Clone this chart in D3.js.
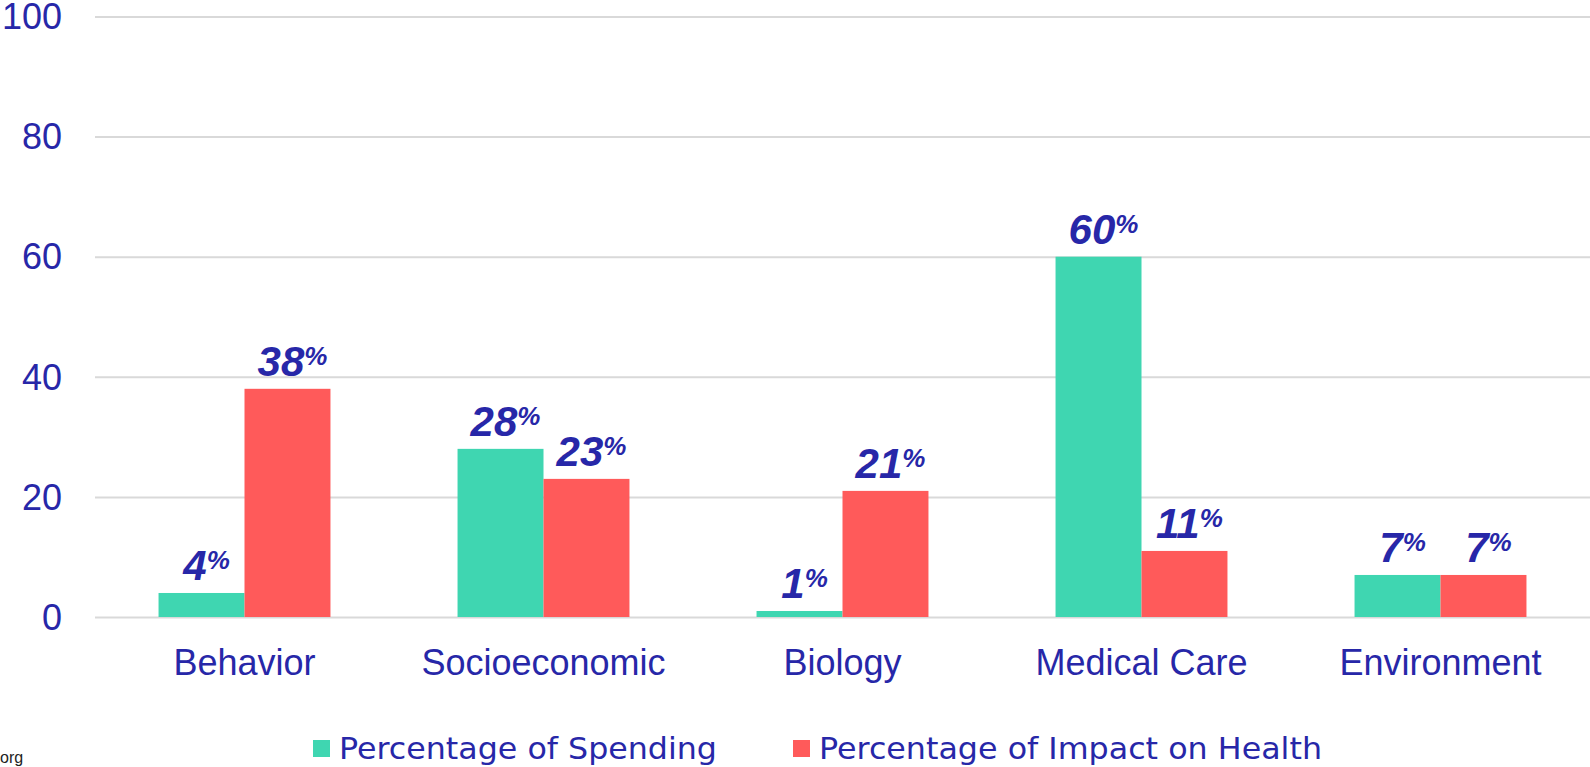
<!DOCTYPE html>
<html>
<head>
<meta charset="utf-8">
<script src="https://cdn.jsdelivr.net/npm/d3@7"></script>
<style>
  html, body { margin: 0; padding: 0; background: #fff; overflow: hidden; }
  svg { display: block; }
</style>
</head>
<body>
<svg id="chart" width="1590" height="767"></svg>
<script>
const categories = ["Behavior", "Socioeconomic", "Biology", "Medical Care", "Environment"];
const seriesNames = ["Percentage of Spending", "Percentage of Impact on Health"];
const spending = [4, 28, 1, 60, 7];
const impact = [38, 23, 21, 11, 7];
const yTicks = [0, 20, 40, 60, 80, 100];

const colors = ["#3fd6b1", "#ff5a5a"];
const textBlue = "#2727a8";

const svg = d3.select("#chart");
const mLeft = 95, mRight = 1590, mTop = 16.5, mBottom = 617;

const x0 = d3.scaleBand().domain(categories).range([mLeft, mRight]).paddingInner(0.425).paddingOuter(0.2125);
const x1 = d3.scaleBand().domain([0, 1]).range([0, x0.bandwidth()]);
const y = d3.scaleLinear().domain([0, 100]).range([mBottom, mTop]);

// gridlines
const yAxis = d3.axisLeft(y).tickValues(yTicks).tickSize(-(mRight - mLeft)).tickPadding(33);
const gy = svg.append("g").attr("transform", `translate(${mLeft},0)`).call(yAxis);
gy.select(".domain").remove();
gy.selectAll(".tick line").attr("stroke", "#d9d9d9").attr("stroke-width", 2);
gy.selectAll(".tick text")
  .attr("fill", textBlue)
  .attr("dy", "0.34em")
  .style("font-family", "'Liberation Sans', Arial, sans-serif")
  .style("font-size", "36px");

// bars
const rows = categories.map((c, i) => ({ cat: c, vals: [spending[i], impact[i]] }));
const groups = svg.append("g").selectAll("g").data(rows).join("g")
  .attr("transform", d => `translate(${x0(d.cat)},0)`);

groups.selectAll("rect").data(d => d.vals.map((v, k) => ({ v, k }))).join("rect")
  .attr("x", d => x1(d.k))
  .attr("width", x1.bandwidth())
  .attr("y", d => y(d.v))
  .attr("height", d => y(0) - y(d.v))
  .attr("fill", d => colors[d.k]);

// value labels
const lab = groups.selectAll("text.val").data(d => d.vals.map((v, k) => ({ v, k }))).join("text")
  .attr("class", "val")
  .attr("x", d => x1(d.k) + x1.bandwidth() / 2 + 5)
  .attr("y", d => y(d.v) - 13)
  .attr("text-anchor", "middle")
  .attr("fill", textBlue)
  .style("font-family", "'Liberation Sans', Arial, sans-serif")
  .style("font-weight", "bold")
  .style("font-style", "italic");
lab.append("tspan").style("font-size", "42px").text(d => d.v);
lab.append("tspan").style("font-size", "26px").attr("dy", -11).text("%");

// category labels
svg.append("g").selectAll("text").data(categories).join("text")
  .attr("x", d => x0(d) + x0.bandwidth() / 2)
  .attr("y", 675)
  .attr("text-anchor", "middle")
  .attr("fill", textBlue)
  .style("font-family", "'Liberation Sans', Arial, sans-serif")
  .style("font-size", "36px")
  .text(d => d);

// legend
const legendX = [313, 793];
const legendTextW = [378, 503];
const lg = svg.append("g").selectAll("g").data(seriesNames).join("g");
lg.append("rect")
  .attr("x", (d, i) => legendX[i])
  .attr("y", 740)
  .attr("width", 17)
  .attr("height", 17)
  .attr("fill", (d, i) => colors[i]);
lg.append("text")
  .attr("x", (d, i) => legendX[i] + 26)
  .attr("y", 759)
  .attr("fill", textBlue)
  .attr("textLength", (d, i) => legendTextW[i])
  .attr("lengthAdjust", "spacingAndGlyphs")
  .style("font-family", "'DejaVu Sans', sans-serif")
  .style("font-size", "30px")
  .style("font-weight", "normal")
  .text(d => d);

// cut-off source text
svg.append("text")
  .attr("x", 0).attr("y", 763)
  .attr("fill", "#222")
  .style("font-family", "'Liberation Sans', Arial, sans-serif")
  .style("font-size", "16px")
  .text("org");
</script>
</body>
</html>
